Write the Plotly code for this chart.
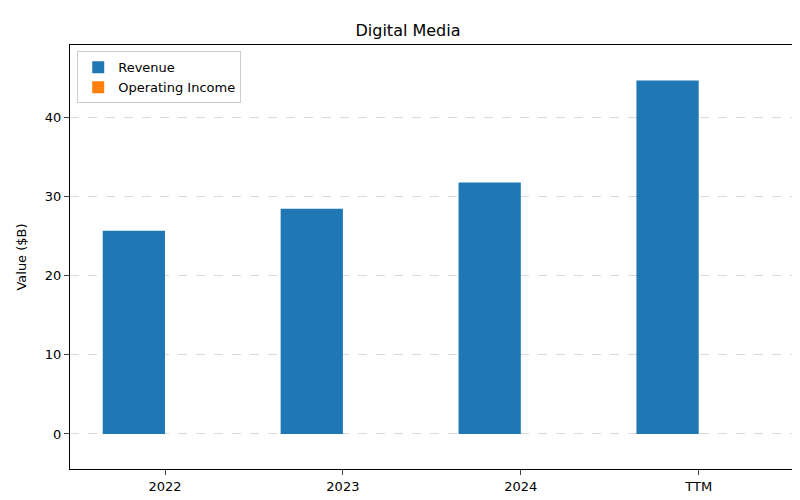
import plotly.graph_objects as go

categories = ["2022", "2023", "2024", "TTM"]
revenue = [25.7, 28.5, 31.8, 44.7]
operating_income = [0.0, 0.0, 0.0, 0.0]

xs = list(range(len(categories)))
w = 0.35
fig = go.Figure()
fig.add_bar(x=[x - w/2 for x in xs], y=revenue, width=w, name="Revenue", marker_color="#1f77b4", marker_line_width=0)
fig.add_bar(x=[x + w/2 for x in xs], y=operating_income, width=w, name="Operating Income", marker_color="#ff7f0e", marker_line_width=0)

fig.update_layout(
    width=800, height=500, barmode="overlay",
    margin=dict(l=62, r=15, t=37, b=39),
    paper_bgcolor="white", plot_bgcolor="white",
    font=dict(family="DejaVu Sans", size=12, color="black"),
    title=dict(text="Digital Media", x=0.5, xanchor="center", y=0.955, yanchor="middle", font=dict(size=16)),
    legend=dict(x=0.01, y=0.985, xanchor="left", yanchor="top", bordercolor="#cccccc", borderwidth=1, bgcolor="white", font=dict(size=13)),
    showlegend=True,
)
fig.update_xaxes(range=[-0.534, 3.53], tickvals=xs, ticktext=categories, showline=True, mirror=True,
                 linecolor="black", ticks="outside", showgrid=False, zeroline=False, tickfont=dict(size=13))
fig.update_yaxes(range=[-4.43, 49.2], tickvals=[0, 10, 20, 30, 40], showline=True, mirror=True,
                 linecolor="black", ticks="outside", showgrid=True, gridcolor="#d9d9d9", griddash="dash",
                 zeroline=False, title=dict(text="Value ($B)", font=dict(size=13)), tickfont=dict(size=13))
fig.write_html("out.html")
